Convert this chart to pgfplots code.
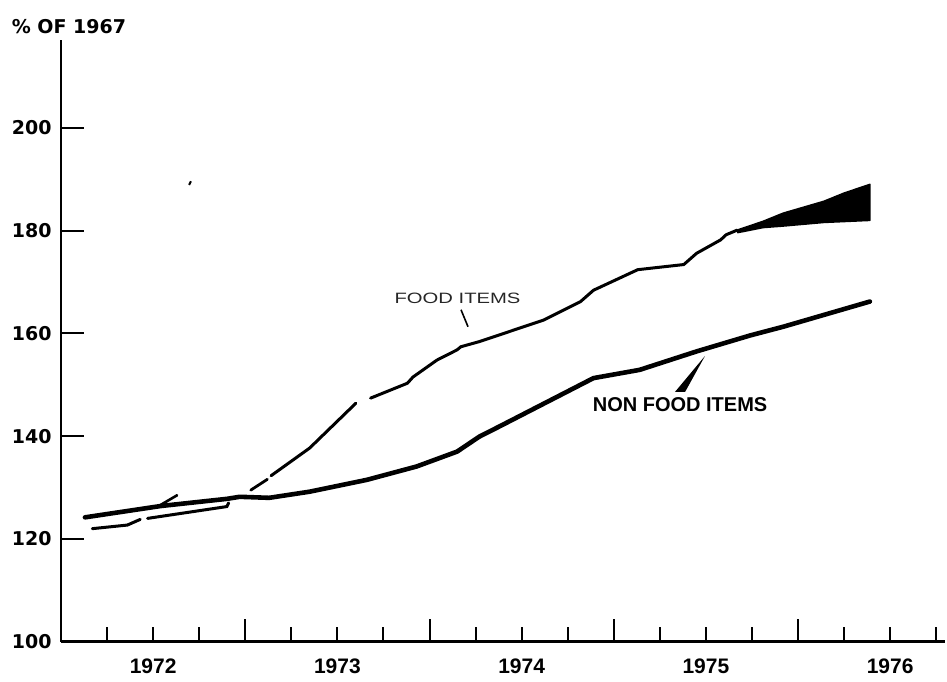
\documentclass[border=0pt]{standalone}
\usepackage{fontspec}
\setmainfont{Liberation Sans}
\newfontfamily\dejavu{DejaVu Sans}
\usepackage{pgfplots}
\pgfplotsset{compat=1.18}

% 1 px of the reference = 0.5pt
\begin{document}
\begin{tikzpicture}
\useasboundingbox (0,0) rectangle (473.5pt,340.5pt);
\begin{axis}[
    at={(30.5pt,19.65pt)}, anchor=south west,
    scale only axis, width=442.2pt, height=300.85pt,
    xmin=1972, xmax=1976.8, ymin=100, ymax=217.1,
    axis x line*=bottom, axis y line*=left,
    axis line style={line width=1.4pt},
    clip=false,
    tick align=inside,
    major tick length=11.5pt, minor tick length=7.5pt,
    every tick/.style={black, line width=1pt},
    xtick={1973,1974,1975,1976}, xticklabels={},
    minor xtick={1972.25,1972.5,1972.75,1973.25,1973.5,1973.75,1974.25,1974.5,1974.75,1975.25,1975.5,1975.75,1976.25,1976.5,1976.75},
    extra x ticks={1972.5,1973.5,1974.5,1975.5,1976.5},
    extra x tick labels={1972,1973,1974,1975,1976},
    extra x tick style={major tick length=0pt,
      xticklabel style={font=\bfseries\fontsize{10.5}{11}\selectfont, yshift=-5pt}},
    ytick={100,120,140,160,180,200},
    yticklabel style={font=\dejavu\bfseries\fontsize{9.5}{10}\selectfont, xshift=-1.2pt},
    /pgf/number format/assume math mode=true,
  ]

% non food items
\addplot[black, line width=2.3pt, line cap=round, line join=round] coordinates {
  (1972.13,124.2) (1972.54,126.4) (1972.90,127.8) (1972.97,128.2) (1973.13,128.0)
  (1973.35,129.2) (1973.66,131.5) (1973.93,134.1) (1974.15,137.0) (1974.27,139.9)
  (1974.38,141.9) (1974.89,151.3) (1975.14,152.9) (1975.45,156.5) (1975.74,159.6)
  (1975.92,161.3) (1976.39,166.2)
};

% food items (broken print)
\addplot[black, line width=1.5pt, line cap=round] coordinates {
  (1972.17,122.0) (1972.36,122.7) (1972.43,123.8)
};
\addplot[black, line width=1.5pt, line cap=round] coordinates {
  (1972.47,124.0) (1972.90,126.3) (1972.91,127.0)
};
\addplot[black, line width=1.3pt, line cap=round] coordinates {
  (1972.54,126.6) (1972.63,128.5)
};
\addplot[black, line width=1pt] coordinates {
  (1972.695,188.9) (1972.705,189.6)
};
\addplot[black, line width=1.4pt, line cap=round] coordinates {
  (1973.03,129.5) (1973.12,131.6)
};
\addplot[black, line width=1.5pt, line cap=round, line join=round] coordinates {
  (1973.14,132.3) (1973.35,137.7) (1973.60,146.4)
};
\addplot[black, line width=1.5pt, line cap=round, line join=round] coordinates {
  (1973.68,147.4) (1973.88,150.3) (1973.91,151.5) (1974.04,154.8) (1974.15,156.8)
  (1974.17,157.4) (1974.27,158.4) (1974.62,162.6) (1974.82,166.2) (1974.89,168.4)
  (1975.13,172.4) (1975.38,173.4) (1975.45,175.6) (1975.58,178.2) (1975.61,179.2)
  (1975.67,180.1)
};
% widening band at the end of the food series
\addplot[black, fill=black, line width=0.8pt, line join=round] coordinates {
  (1975.67,180.1) (1975.81,181.8) (1975.92,183.4) (1976.14,185.7) (1976.25,187.3)
  (1976.39,189.0) (1976.39,182.0) (1976.14,181.6) (1975.92,180.9) (1975.81,180.6)
  (1975.67,179.6)
};

% labels
\node[font=\dejavu\bfseries\fontsize{9.5}{10}\selectfont, anchor=center]
  at (axis cs:1972.043,219.7) {\% OF 1967};
\node[font=\fontsize{7.5}{8}\selectfont, xscale=1.35, text=black!85]
  at (axis cs:1974.152,166.9) {FOOD ITEMS};
\draw[black, line width=0.8pt] (axis cs:1974.171,164.6) -- (axis cs:1974.209,161.3);
\node[font=\bfseries\fontsize{10}{11}\selectfont]
  at (axis cs:1975.36,146.1) {NON FOOD ITEMS};
\fill[black] (axis cs:1975.332,148.6) -- (axis cs:1975.387,148.6) -- (axis cs:1975.495,155.6) -- cycle;
\end{axis}
\end{tikzpicture}
\end{document}
